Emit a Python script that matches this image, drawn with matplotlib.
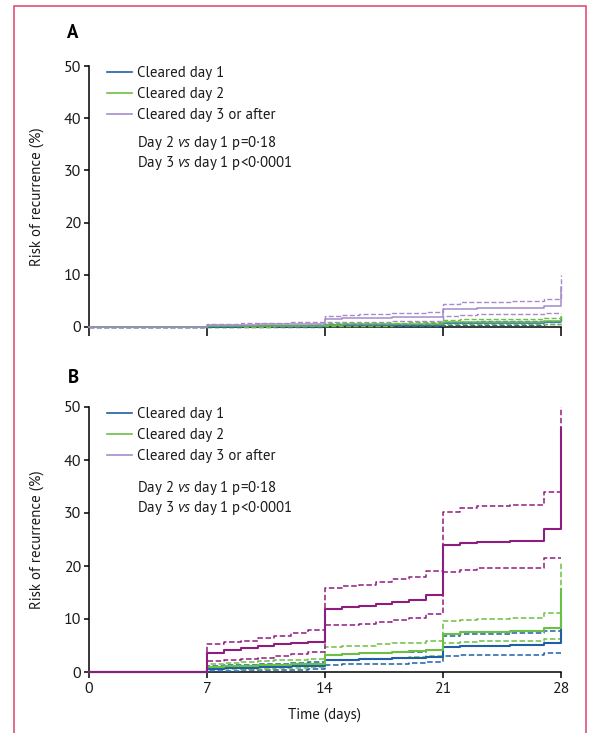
import matplotlib
matplotlib.use("Agg")
import matplotlib.pyplot as plt
from matplotlib import font_manager as fm
from matplotlib.lines import Line2D
from matplotlib.patches import Rectangle

# ---------------- data ----------------
days = [0, 7, 8, 9, 10, 11, 12, 13, 14, 15, 16, 17, 18, 19, 20, 21, 22, 23, 25, 27, 28]

# Panel A
a_day1 = [0, 0.05, 0.05, 0.1, 0.1, 0.1, 0.15, 0.15, 0.3, 0.3, 0.35, 0.35, 0.4, 0.4, 0.45, 0.7, 0.75, 0.8, 0.8, 0.9, 1.4]
a_day1_hi = [0, 0.15, 0.15, 0.2, 0.2, 0.25, 0.25, 0.3, 0.5, 0.55, 0.55, 0.6, 0.6, 0.65, 0.7, 1.0, 1.05, 1.1, 1.1, 1.2, 1.8]
a_day1_lo = [0, 0.0, 0.0, 0.0, 0.05, 0.05, 0.05, 0.05, 0.15, 0.15, 0.15, 0.2, 0.2, 0.2, 0.2, 0.4, 0.45, 0.45, 0.45, 0.5, 0.5]
a_day2 = [0, 0.1, 0.1, 0.15, 0.15, 0.2, 0.2, 0.25, 0.45, 0.5, 0.5, 0.55, 0.55, 0.6, 0.65, 0.95, 1.0, 1.05, 1.05, 1.2, 1.9]
a_day2_hi = [0, 0.25, 0.25, 0.3, 0.3, 0.35, 0.4, 0.45, 0.7, 0.75, 0.8, 0.8, 0.85, 0.9, 0.95, 1.4, 1.45, 1.5, 1.55, 1.7, 2.6]
a_day2_lo = [0, 0.0, 0.05, 0.05, 0.05, 0.1, 0.1, 0.1, 0.2, 0.25, 0.25, 0.25, 0.3, 0.3, 0.3, 0.5, 0.55, 0.55, 0.6, 0.65, 0.65]
a_day3 = [0, 0.4, 0.4, 0.45, 0.5, 0.55, 0.6, 0.65, 1.6, 1.7, 1.75, 1.8, 1.85, 1.9, 2.0, 3.4, 3.5, 3.6, 3.7, 4.1, 7.7]
a_day3_hi = [0, 0.6, 0.65, 0.7, 0.8, 0.85, 0.9, 1.0, 2.2, 2.3, 2.4, 2.5, 2.6, 2.7, 2.8, 4.5, 4.7, 4.8, 4.9, 5.3, 10.0]
a_day3_lo = [0, 0.1, 0.1, 0.15, 0.2, 0.2, 0.25, 0.3, 0.9, 0.95, 1.0, 1.05, 1.1, 1.15, 1.2, 2.2, 2.3, 2.4, 2.5, 2.7, 2.7]

# Panel B
b_day1 = [0, 0.6, 0.7, 0.8, 0.9, 1.0, 1.1, 1.2, 2.2, 2.3, 2.4, 2.5, 2.6, 2.7, 2.9, 4.7, 4.9, 5.0, 5.1, 5.5, 10.4]
b_day1_hi = [0, 1.2, 1.3, 1.4, 1.5, 1.6, 1.7, 1.8, 3.3, 3.4, 3.5, 3.6, 3.7, 3.8, 4.1, 6.8, 7.1, 7.2, 7.3, 7.8, 10.0]
b_day1_lo = [0, 0.2, 0.25, 0.3, 0.35, 0.4, 0.45, 0.5, 1.4, 1.45, 1.5, 1.55, 1.6, 1.65, 1.8, 3.0, 3.2, 3.3, 3.3, 3.6, 3.6]
b_day2 = [0, 1.0, 1.1, 1.2, 1.3, 1.4, 1.5, 1.6, 3.3, 3.4, 3.5, 3.6, 3.8, 3.9, 4.2, 7.2, 7.5, 7.6, 7.7, 8.3, 15.6]
b_day2_hi = [0, 1.6, 1.7, 1.9, 2.0, 2.2, 2.3, 2.5, 4.7, 4.9, 5.0, 5.2, 5.4, 5.5, 5.9, 9.7, 9.9, 10.0, 10.1, 11.1, 20.5]
b_day2_lo = [0, 0.5, 0.55, 0.6, 0.65, 0.7, 0.8, 0.9, 2.2, 2.3, 2.4, 2.5, 2.6, 2.8, 3.0, 5.5, 5.7, 5.8, 5.9, 6.2, 6.5]
b_day3 = [0, 3.6, 4.1, 4.5, 4.9, 5.2, 5.5, 5.7, 11.9, 12.2, 12.5, 12.8, 13.3, 13.6, 14.6, 23.9, 24.3, 24.6, 24.8, 27.0, 46.0]
b_day3_hi = [0, 5.3, 5.7, 5.9, 6.4, 6.8, 7.3, 8.0, 15.9, 16.2, 16.4, 17.0, 17.5, 18.0, 19.1, 30.2, 31.0, 31.3, 31.5, 33.9, 50.0]
b_day3_lo = [0, 2.0, 2.2, 2.5, 2.7, 3.1, 3.4, 3.7, 8.8, 8.9, 9.1, 9.5, 9.8, 10.1, 11.0, 18.8, 19.2, 19.6, 19.7, 21.5, 21.5]

group_labels = ["Cleared day 1", "Cleared day 2", "Cleared day 3 or after"]
x_ticks = [0, 7, 14, 21, 28]
y_ticks = [0, 10, 20, 30, 40, 50]
p_lines = [("2", "0·18", "="), ("3", "0·0001", "<")]

# ---------------- style ----------------
def has_regular_and_bold(name):
    regs = [f for f in fm.fontManager.ttflist if f.name == name and f.style == "normal"]
    ws = set()
    for f in regs:
        w = f.weight
        if isinstance(w, str):
            w = {"normal": 400, "regular": 400, "bold": 700}.get(w, 0)
        ws.add(w)
    return 400 in ws and 700 in ws


FONT = "Lato"
for cand in ["Myriad Pro", "PT Sans", "Source Sans Pro", "Fira Sans", "Lato"]:
    if has_regular_and_bold(cand):
        FONT = cand
        break
plt.rcParams["font.family"] = [FONT, "DejaVu Sans"]
plt.rcParams["mathtext.fontset"] = "custom"
plt.rcParams["mathtext.rm"] = FONT
plt.rcParams["mathtext.it"] = FONT + ":italic"

BLUE = "#1f5fa6"
GREEN = "#6cbf45"
LPURPLE = "#a58bc9"
MAGENTA = "#8f1d80"
FRAME = "#d9436b"
TXT = "#1a1a1a"
FS = 10.7

W, H = 589, 733
fig = plt.figure(figsize=(W / 100, H / 100), dpi=100)

# frame around the figure panel
fig.add_artist(Rectangle((14 / W, -0.05), (586 - 14) / W, 1.05 - 6 / H,
                         transform=fig.transFigure, fill=False,
                         edgecolor=FRAME, linewidth=1.1))

axA = fig.add_axes([89 / W, 1 - 327 / H, 472 / W, 261 / H])
axB = fig.add_axes([89 / W, 1 - 672 / H, 472 / W, 265 / H])


def draw_panel(ax, series, solid_lw, dash_lw, show_xlabels):
    for vals, hi, lo, col in series:
        ax.step(days, hi, where="post", color=col, lw=dash_lw,
                dashes=(3.6, 1.7), clip_on=False, zorder=3)
        ax.step(days, lo, where="post", color=col, lw=dash_lw,
                dashes=(3.6, 1.7), clip_on=False, zorder=3)
        ax.step(days, vals, where="post", color=col, lw=solid_lw,
                clip_on=False, zorder=4)
    ax.set_xlim(0, 28)
    ax.set_ylim(0, 50)
    ax.set_xticks(x_ticks)
    ax.set_yticks(y_ticks)
    for s in ["top", "right"]:
        ax.spines[s].set_visible(False)
    for s in ["left", "bottom"]:
        ax.spines[s].set_linewidth(1.1)
    ax.tick_params(axis="y", length=3.5, width=1.1, pad=2, labelsize=FS + 0.8,
                   labelcolor=TXT)
    if show_xlabels:
        ax.tick_params(axis="x", length=4.5, width=1.1, pad=2.5,
                       labelsize=FS + 0.8, labelcolor=TXT)
    else:
        ax.tick_params(axis="x", length=6.5, width=1.1, labelbottom=False)
    handles = [Line2D([], [], color=c, lw=1.2) for c in (BLUE, GREEN, LPURPLE)]
    leg = ax.legend(handles, group_labels, loc="upper left",
                    bbox_to_anchor=((107 - 89) / 472, 1.0), frameon=False,
                    fontsize=FS, handlelength=1.7, handletextpad=0.3,
                    labelspacing=0.47, borderpad=0, borderaxespad=0)
    for t in leg.get_texts():
        t.set_color(TXT)


draw_panel(axA, [(a_day1, a_day1_hi, a_day1_lo, BLUE),
                 (a_day2, a_day2_hi, a_day2_lo, GREEN),
                 (a_day3, a_day3_hi, a_day3_lo, LPURPLE)],
           1.1, 1.0, False)
draw_panel(axB, [(b_day1, b_day1_hi, b_day1_lo, BLUE),
                 (b_day2, b_day2_hi, b_day2_lo, GREEN),
                 (b_day3, b_day3_hi, b_day3_lo, MAGENTA)],
           1.5, 1.1, True)

# p-value annotations
for ax, top_px, ax_h in [(axA, 66, 261), (axB, 407, 265)]:
    for i, (d, p, op) in enumerate(p_lines):
        yc = top_px + (77 if ax is axA else 81) + 20 * i
        ax.text((137 - 89) / 472, 1 - (yc - top_px) / ax_h,
                f"Day {d} " + r"$\it{vs}$" + f" day 1 p{op}{p}",
                transform=ax.transAxes, va="center", ha="left",
                fontsize=FS, color=TXT)

# axis labels
for yc in [(66 + 327) / 2, (407 + 672) / 2]:
    fig.text(37 / W, 1 - yc / H, "Risk of recurrence (%)", rotation=90,
             ha="center", va="center", fontsize=FS, color=TXT)
fig.text(325 / W, 1 - 715 / H, "Time (days)", ha="center", va="center",
         fontsize=FS, color=TXT)

# panel letters
fig.text(73 / W, 1 - 33 / H, "A", ha="center", va="center",
         fontsize=13.5, fontweight="bold", color="black")
fig.text(73 / W, 1 - 378 / H, "B", ha="center", va="center",
         fontsize=13.5, fontweight="bold", color="black")

fig.savefig("out.png", dpi=100)
